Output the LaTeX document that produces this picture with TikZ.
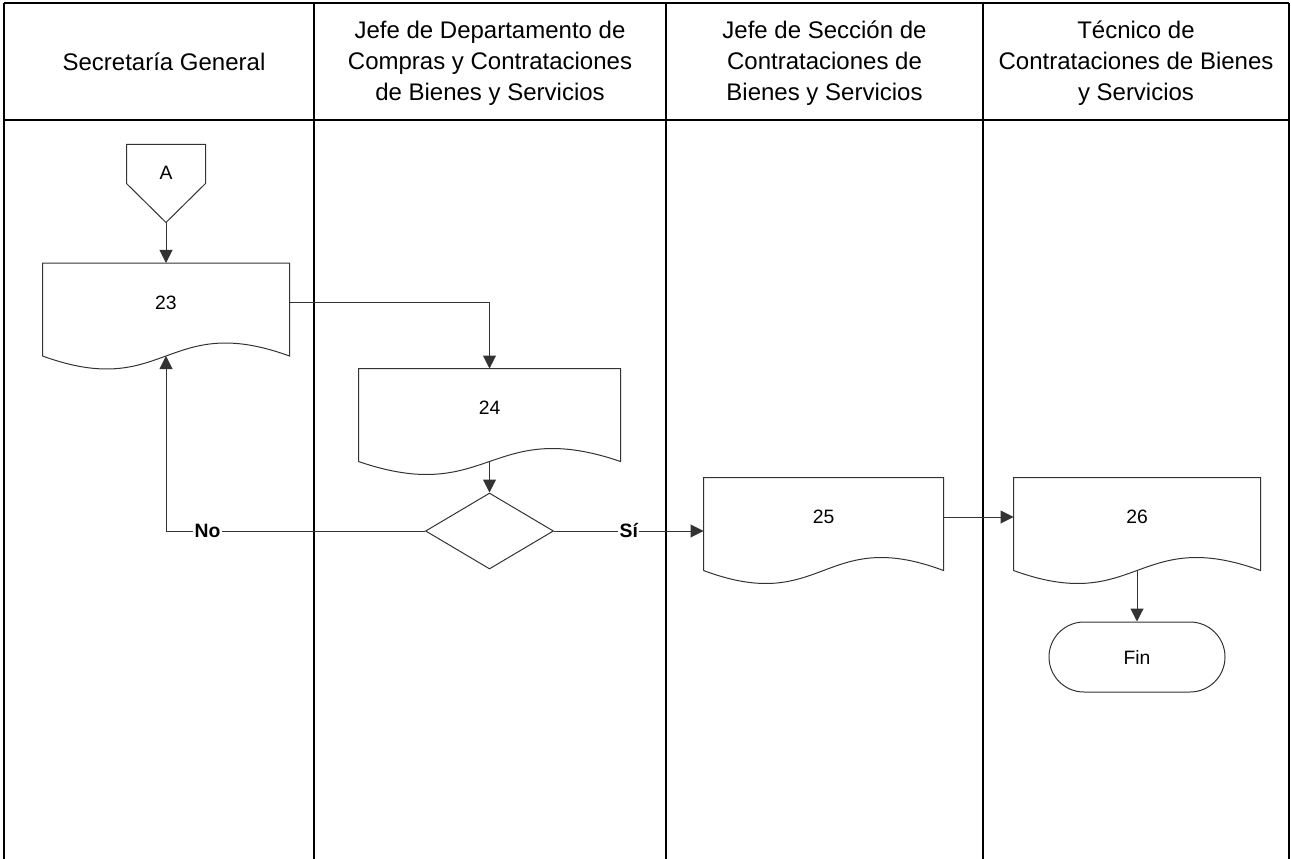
\documentclass[tikz,border=0pt]{standalone}
\usepackage{fontspec}
\setmainfont{Liberation Sans}
\usetikzlibrary{arrows.meta,shapes.geometric,calc}

\tikzset{every picture/.style={line width=0.75pt}}
\tikzset{
  lane/.style={draw=black, line width=0.9pt},
  shp/.style={draw=black!80},
  flow/.style={draw=black!80, -{Triangle[length=9.75pt,width=9.75pt]}},
  hdtext/.style={align=center, inner sep=0.75pt, font=\fontsize{18}{23.25}\selectfont},
  docbox/.style={inner sep=0pt, text depth=10.5pt, minimum height=69pt, font=\fontsize{14.5}{17}\selectfont},
  decbox/.style={diamond, shp, inner sep=0pt, minimum width=96pt, minimum height=57pt},
  finbox/.style={shp, rounded corners=26.25pt, inner sep=0pt, minimum width=132pt, minimum height=52.5pt, font=\fontsize{14.5}{17}\selectfont},
  offpage/.style={inner sep=0pt, minimum width=58.5pt, minimum height=57.75pt, text depth=15.75pt, font=\fontsize{14.5}{17}\selectfont},
  answer/.style={fill=white, inner sep=1pt, font=\bfseries\fontsize{14.5}{17}\selectfont}
}
% document shape: straight top and sides, wavy bottom
\newcommand{\docoutline}[1]{%
  \draw[shp] (#1.south west) -- (#1.north west) -- (#1.north east) -- (#1.south east)
    .. controls ($(#1.south)+(0,-45)$) and ($(#1.south)+(0,45)$) .. (#1.south west);}

\begin{document}
\begin{tikzpicture}[x=0.75pt,y=0.75pt,yscale=-1,xscale=1]
\useasboundingbox (0,0) rectangle (1291,859);

%Straight Lines: lanes
\foreach \x in {4,314,666,983,1289}
  \draw[lane] (\x,3) -- (\x,859);
\draw[lane] (4,3) -- (1289,3);
\draw[lane] (4,120) -- (1289,120);

% Text Node
\node[hdtext] (hdSec) at (164,62) {Secretaría General};
% Text Node
\node[hdtext] (hdJefeDep) at (490,63) {Jefe de Departamento de\\Compras y Contrataciones\\de Bienes y Servicios};
% Text Node
\node[hdtext] (hdJefeSec) at (824.5,63) {Jefe de Sección de\\Contrataciones de\\Bienes y Servicios};
% Text Node
\node[hdtext] (hdTec) at (1136,63) {Técnico de\\Contrataciones de Bienes\\y Servicios};

%Shape: Off-page connector
\node[offpage] (conA) at (166,183.5) {A};
\draw[shp] (conA.north west) -- (conA.north east) -- ($(conA.north east)+(0,39)$)
  -- (conA.south) -- ($(conA.north west)+(0,39)$) -- cycle;

%Shape: Documents
\node[docbox, minimum width=184.5pt] (d23) at (166,309.5) {23};
\docoutline{d23}
\node[docbox, minimum width=195.75pt] (d24) at (489.5,415) {24};
\docoutline{d24}
\node[docbox, minimum width=179.25pt] (d25) at (823.5,524) {25};
\docoutline{d25}
\node[docbox, minimum width=184.5pt] (d26) at (1137,524) {26};
\docoutline{d26}

%Shape: Decision
\node[decbox] (dec) at (489.5,531) {};

%Shape: Terminator
\node[finbox] (fin) at (1137,657) {Fin};

%Straight Lines: connectors
\draw[flow] (conA.south) -- (d23.north);
\draw[flow] ([yshift=-5pt]d23.east) -| (d24.north);
\draw[flow] (d24.south) -- (dec.north);
\draw[flow] (dec.west) -- node[answer, pos=0.84] (lblNo) {No} (dec.west -| d23.south) -- (d23.south);
\draw[flow] (dec.east) -- node[answer, pos=0.5] (lblSi) {Sí} (dec.east -| d25.west);
\draw[flow] ([yshift=-5.25pt]d25.east) -- ([yshift=-5.25pt]d26.west);
\draw[flow] (d26.south) -- (fin.north);

\end{tikzpicture}
\end{document}
